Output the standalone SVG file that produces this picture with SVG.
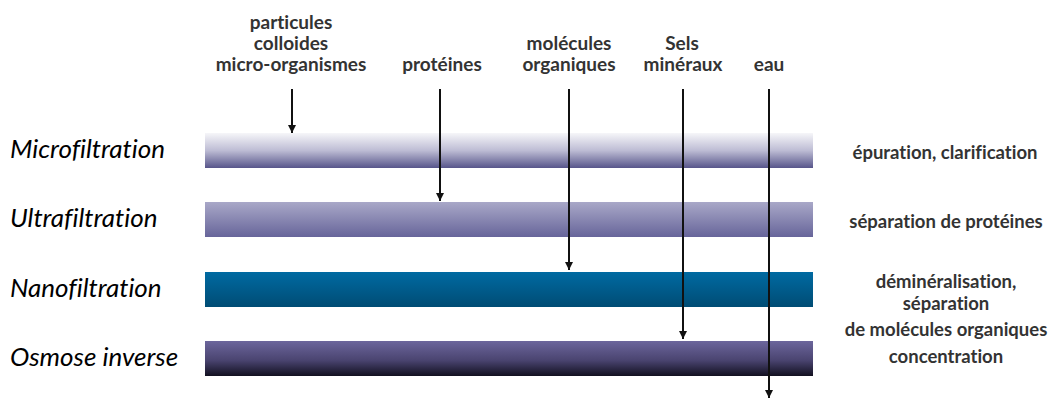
<svg xmlns="http://www.w3.org/2000/svg" width="1054" height="401" viewBox="0 0 1054 401">
  <style>
    text { font-variant-ligatures: none; font-feature-settings: "liga" 0, "clig" 0, "dlig" 0; }
    .top { font-family: Lato, "Open Sans", "Liberation Sans", sans-serif; font-weight: bold; font-size: 19px; fill: #333; text-anchor: middle; }
    .right { font-family: Lato, "Open Sans", "Liberation Sans", sans-serif; font-weight: bold; font-size: 18.5px; fill: #333; text-anchor: middle; }
    .left { font-family: Lato, "Open Sans", "Liberation Sans", sans-serif; font-style: italic; font-size: 26px; fill: #000; }
    .arrow { stroke: #111; stroke-width: 2; fill: none; marker-end: url(#ah); }
  </style>
  <defs>
    <marker id="ah" viewBox="0 0 10 10" refX="10" refY="5" markerWidth="4" markerHeight="4" markerUnits="strokeWidth" orient="auto">
      <path d="M0,0 L10,5 L0,10 z" fill="#111"/>
    </marker>
    <linearGradient id="g1" x1="0" y1="0" x2="0" y2="1">
      <stop offset="0" stop-color="#f6f6f9"/>
      <stop offset="0.5" stop-color="#bdbcd4"/>
      <stop offset="1" stop-color="#57558a"/>
    </linearGradient>
    <linearGradient id="g2" x1="0" y1="0" x2="0" y2="1">
      <stop offset="0" stop-color="#a9a8c8"/>
      <stop offset="1" stop-color="#67659a"/>
    </linearGradient>
    <linearGradient id="g3" x1="0" y1="0" x2="0" y2="1">
      <stop offset="0" stop-color="#006aa2"/>
      <stop offset="1" stop-color="#004c74"/>
    </linearGradient>
    <linearGradient id="g4" x1="0" y1="0" x2="0" y2="1">
      <stop offset="0" stop-color="#6c669c"/>
      <stop offset="0.55" stop-color="#4a4470"/>
      <stop offset="1" stop-color="#121020"/>
    </linearGradient>
  </defs>
  <rect width="1054" height="401" fill="#ffffff"/>

  <g id="microfiltration">
    <rect x="205" y="133" width="608" height="35" fill="url(#g1)"/>
    <text class="left" x="10" y="158">Microfiltration</text>
    <text class="right" x="945" y="159">épuration, clarification</text>
  </g>
  <g id="ultrafiltration">
    <rect x="205" y="202" width="608" height="35" fill="url(#g2)"/>
    <text class="left" x="10" y="227">Ultrafiltration</text>
    <text class="right" x="946" y="228">séparation de protéines</text>
  </g>
  <g id="nanofiltration">
    <rect x="205" y="272" width="608" height="35" fill="url(#g3)"/>
    <text class="left" x="10" y="297">Nanofiltration</text>
    <text class="right" x="946" y="288">déminéralisation,</text>
    <text class="right" x="946" y="310">séparation</text>
    <text class="right" x="946" y="336">de molécules organiques</text>
  </g>
  <g id="osmose">
    <rect x="205" y="341" width="608" height="35" fill="url(#g4)"/>
    <text class="left" x="10" y="366">Osmose inverse</text>
    <text class="right" x="946" y="363">concentration</text>
  </g>

  <g id="labels">
    <text class="top" x="291" y="29">particules</text>
    <text class="top" x="291" y="50">colloides</text>
    <text class="top" x="291" y="71">micro-organismes</text>
    <text class="top" x="442" y="71">protéines</text>
    <text class="top" x="569" y="50">molécules</text>
    <text class="top" x="569" y="71">organiques</text>
    <text class="top" x="682" y="50">Sels</text>
    <text class="top" x="683" y="71">minéraux</text>
    <text class="top" x="769" y="71">eau</text>
  </g>

  <g id="connectors">
    <line class="arrow" x1="292" y1="89" x2="292" y2="133"/>
    <line class="arrow" x1="440" y1="89" x2="440" y2="201"/>
    <line class="arrow" x1="569" y1="89" x2="569" y2="270"/>
    <line class="arrow" x1="683" y1="89" x2="683" y2="339"/>
    <line class="arrow" x1="769" y1="89" x2="769" y2="398"/>
  </g>
</svg>
